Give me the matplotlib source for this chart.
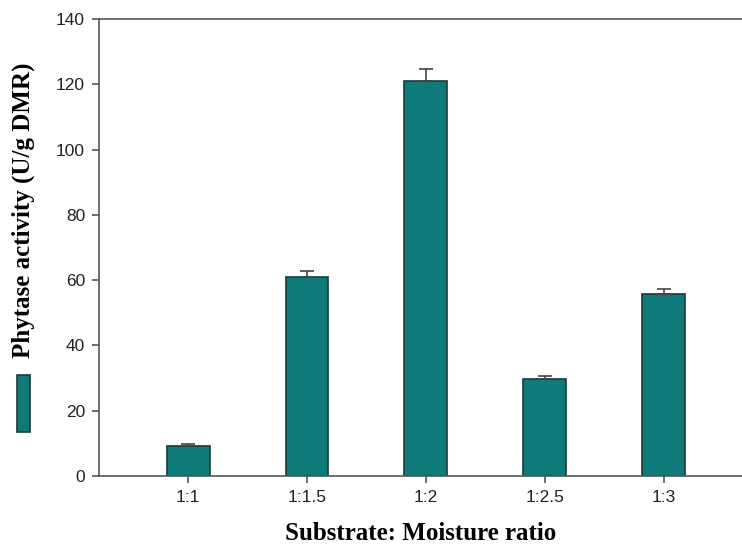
import matplotlib
matplotlib.use("Agg")
import matplotlib.pyplot as plt
from matplotlib.patches import Rectangle

# data
ratios = ['1:1', '1:1.5', '1:2', '1:2.5', '1:3']
activity = [9.3, 60.9, 121.1, 29.6, 55.7]
err_up = [0.4, 1.8, 3.6, 1.1, 1.6]

teal = '#0f7a7a'
edge = '#1d3b3b'
grey = '#555555'

fig = plt.figure(figsize=(7.42, 5.5), dpi=100)
ax = fig.add_axes([0.1334, 0.1345, 0.8666, 0.831])

x = range(len(ratios))
ax.bar(x, activity, width=0.36, color=teal, edgecolor=edge, linewidth=1.2,
       yerr=[[0] * len(err_up), err_up],
       error_kw=dict(ecolor='#444444', elinewidth=1.2, capsize=5, capthick=1.2))

ax.set_xlim(-0.75, 4.66)
ax.set_ylim(0, 140)
ax.set_yticks(range(0, 141, 20))
ax.set_xticks(list(x))
ax.set_xticklabels(ratios)

for s in ['left', 'bottom', 'top']:
    ax.spines[s].set_color(grey)
    ax.spines[s].set_linewidth(1.2)
ax.spines['right'].set_visible(False)
ax.tick_params(direction='out', length=5, width=1.2, color=grey,
               labelsize=12.5, labelcolor='#222222', pad=5)
for lab in ax.get_xticklabels() + ax.get_yticklabels():
    lab.set_family('Liberation Sans')

ax.set_xlabel('Substrate: Moisture ratio', family='Liberation Serif',
              fontweight='bold', fontsize=18, labelpad=12)
fig.text(0.031, 0.618, 'Phytase activity (U/g DMR)', family='Liberation Serif',
         fontweight='bold', fontsize=18, rotation=90, ha='center', va='center')

# legend swatch on the left
fig.patches.append(Rectangle((17 / 742, 1 - 432 / 550), 13 / 742, 57 / 550,
                             transform=fig.transFigure, facecolor=teal,
                             edgecolor=edge, linewidth=1.2))

fig.savefig('out.png', dpi=100)
